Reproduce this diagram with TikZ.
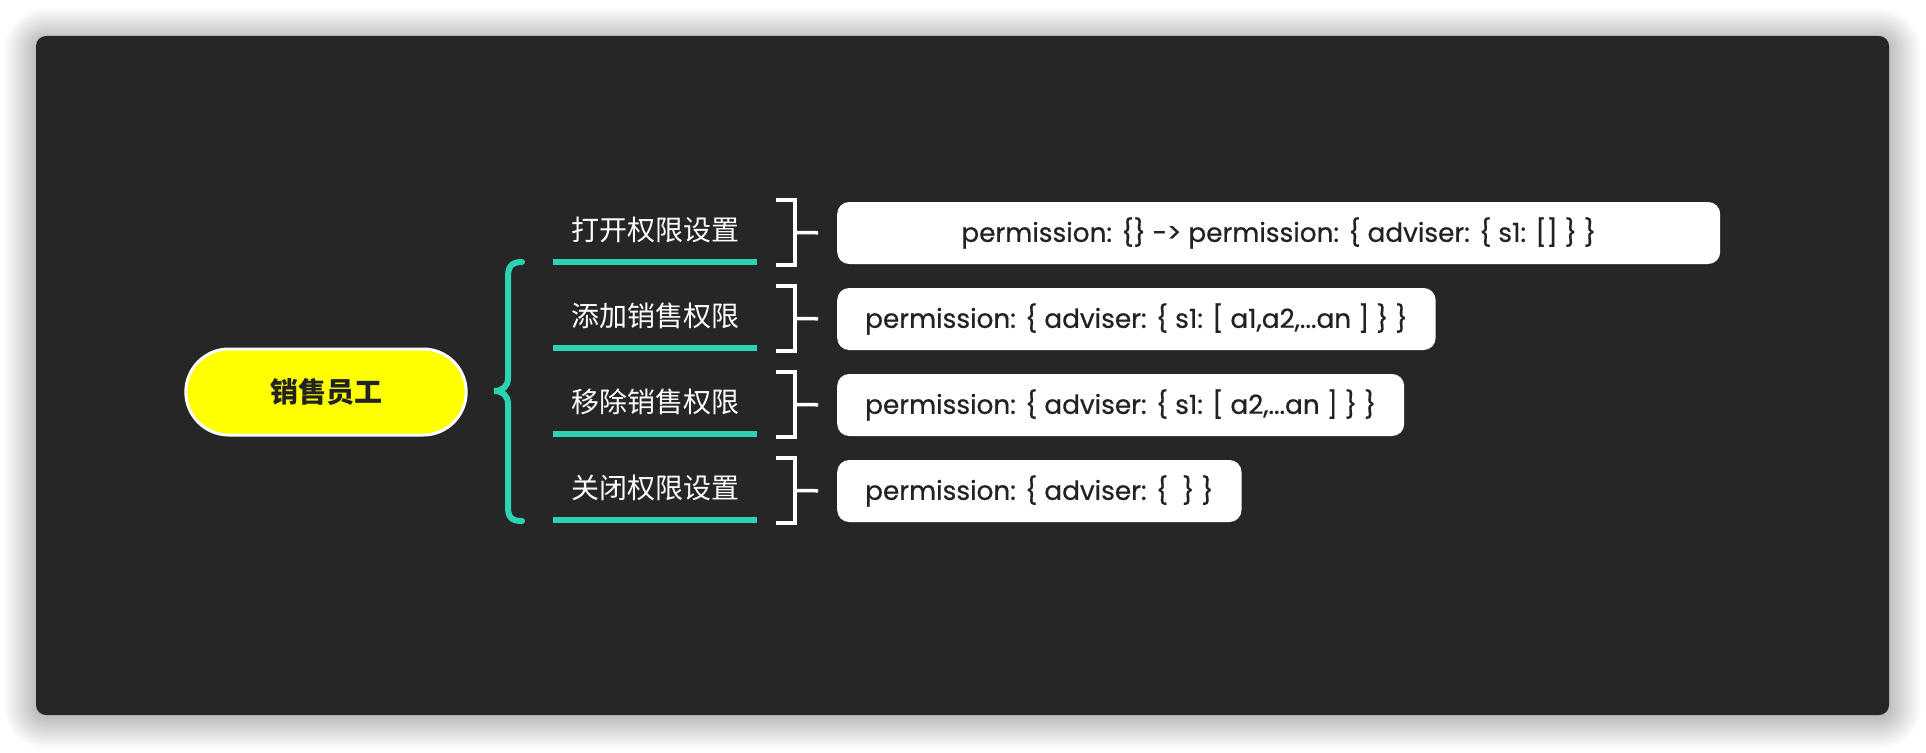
\documentclass[tikz,border=0pt]{standalone}
\usepackage{fontspec}
\setmainfont{Poppins}
\newfontfamily\codefont[FakeBold=0.6]{Poppins}
\newfontfamily\cjk{Noto Sans CJK SC}
\usetikzlibrary{shapes.misc}
\definecolor{panel}{HTML}{262626}
\definecolor{mint}{HTML}{2BD2B4}
\definecolor{ink}{HTML}{222222}
\definecolor{sun}{HTML}{FFFF00}

\begin{document}
\begin{tikzpicture}[x=1pt,y=-1pt,
		root/.style={rounded rectangle, fill=sun, draw=white, line width=3pt, minimum width=287pt, minimum height=86pt, text=ink, font=\cjk\bfseries\fontsize{28}{28}\selectfont},
		rowlabel/.style={minimum width=204pt, minimum height=64pt, inner sep=0pt, text=white, font=\cjk\fontsize{28}{28}\selectfont},
		underline/.style={mint, line width=6pt},
		bracket/.style={white, line width=3.5pt},
		valuebox/.style={rectangle, rounded corners=12pt, fill=white, minimum height=62pt, inner xsep=28pt, anchor=west, text=ink, font=\codefont\fontsize{26.3}{26.3}\selectfont}]
		\useasboundingbox (0,0) rectangle (1926,752);
		\fill[white] (0,0) rectangle (1926,752);

		% Panel with its soft shadow
		\foreach \i in {1,...,32}
			\fill[black, opacity=0.007, rounded corners={10+\i}] (36-\i,40-\i) rectangle (1889+\i,717+\i);
		\fill[panel, rounded corners=10pt] (36,36) rectangle (1889,715);

		% Root node and its brace
		\node[root] (staff) at (326,392) {销售员工};
		\draw[mint, line width=6pt, line cap=round] (522,262) .. controls (510,262) and (508,268) .. (508,278) -- (508,378) .. controls (508,387) and (502,391) .. (494,391) .. controls (502,391) and (508,395) .. (508,404) -- (508,506) .. controls (508,516) and (510,521) .. (522,521);

		% First row
		\node[rowlabel] (L_I) at (655,230) {打开权限设置};
		\draw[underline] (L_I.south west) -- (L_I.south east);
		\coordinate (B_I_top) at (776,200);
		\coordinate (B_I_bot) at (776,265);
		\coordinate (K_I) at (795,232.5);
		\draw[bracket] (B_I_top) -| (K_I) |- (B_I_bot);
		\node[valuebox, minimum width=883pt] (P_I) at (837,233) {permission: \{\} -> permission: \{ adviser: \{ s1: [] \} \}};
		\draw[bracket, shorten >=19pt] (K_I) -- (P_I.west);

		% Second row
		\node[rowlabel] (L_II) at (655,316) {添加销售权限};
		\draw[underline] (L_II.south west) -- (L_II.south east);
		\coordinate (B_II_top) at (776,286);
		\coordinate (B_II_bot) at (776,351);
		\coordinate (K_II) at (795,318.5);
		\draw[bracket] (B_II_top) -| (K_II) |- (B_II_bot);
		\node[valuebox] (P_II) at (837,319) {permission: \{ adviser: \{ s1: [ a1,a2,...an ] \} \}};
		\draw[bracket, shorten >=19pt] (K_II) -- (P_II.west);

		% Third row
		\node[rowlabel] (L_III) at (655,402) {移除销售权限};
		\draw[underline] (L_III.south west) -- (L_III.south east);
		\coordinate (B_III_top) at (776,372);
		\coordinate (B_III_bot) at (776,437);
		\coordinate (K_III) at (795,404.5);
		\draw[bracket] (B_III_top) -| (K_III) |- (B_III_bot);
		\node[valuebox] (P_III) at (837,405) {permission: \{ adviser: \{ s1: [ a2,...an ] \} \}};
		\draw[bracket, shorten >=19pt] (K_III) -- (P_III.west);

		% Fourth row
		\node[rowlabel] (L_IV) at (655,488) {关闭权限设置};
		\draw[underline] (L_IV.south west) -- (L_IV.south east);
		\coordinate (B_IV_top) at (776,458);
		\coordinate (B_IV_bot) at (776,523);
		\coordinate (K_IV) at (795,490.5);
		\draw[bracket] (B_IV_top) -| (K_IV) |- (B_IV_bot);
		\node[valuebox] (P_IV) at (837,491) {permission: \{ adviser: \{ \ \} \}};
		\draw[bracket, shorten >=19pt] (K_IV) -- (P_IV.west);
\end{tikzpicture}
\end{document}
